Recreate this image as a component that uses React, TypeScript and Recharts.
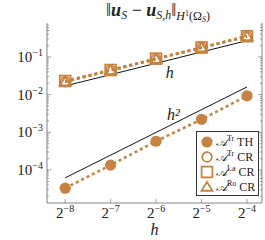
import React from "react";
import { ComposedChart, Line, XAxis, YAxis, Legend, ReferenceDot } from "recharts";

// mesh sizes and errors
const hValues = [2 ** -8, 2 ** -7, 2 ** -6, 2 ** -5, 2 ** -4];
const xTickExps = ["8", "7", "6", "5", "4"];
const trTH = [3.3e-5, 1.35e-4, 5.8e-4, 2.2e-3, 9.3e-3];
const trCR = [0.022, 0.044, 0.088, 0.175, 0.35];
const laCR = [0.023, 0.045, 0.09, 0.178, 0.355];
const roCR = [0.022, 0.044, 0.088, 0.176, 0.352];
const refH = [0.017, null, null, null, 0.27];
const refH2 = [6.2e-5, null, null, null, 0.016];
const yMajor = [1e-4, 1e-3, 1e-2, 1e-1];
const yTickExps = ["4", "3", "2", "1"];

const ORANGE = "#c8823f";
const FONT = "'Liberation Serif', 'DejaVu Serif', serif";

const data = hValues.map((h, i) => ({
  h,
  trTH: trTH[i],
  trCR: trCR[i],
  laCR: laCR[i],
  roCR: roCR[i],
  refH: refH[i],
  refH2: refH2[i],
}));

const yMinor: number[] = [];
for (let e = -5; e <= -1; e++) {
  for (let m = 2; m <= 9; m++) {
    const v = m * 10 ** e;
    if (v > 10 ** -4.875 && v < 10 ** -0.1) yMinor.push(v);
  }
}
const yTicks = [...yMajor, ...yMinor].sort((a, b) => a - b);

const isMajor = (v: number) => Math.abs(Math.log10(v) - Math.round(Math.log10(v))) < 1e-6;

const LeftTick = (p: any) => {
  const v = p.payload.value;
  const major = isMajor(v);
  const idx = yMajor.findIndex((m) => Math.abs(m - v) / m < 1e-6);
  return (
    <g>
      <line x1={p.x} x2={p.x + (major ? 4 : 2)} y1={p.y} y2={p.y} stroke="#777" strokeWidth={0.7} />
      {major && (
        <text x={p.x - 4} y={p.y + 5} textAnchor="end" fontFamily={FONT} fontSize={15} fill="#222">
          10<tspan fontSize={10} dy={-6}>−{yTickExps[idx]}</tspan>
        </text>
      )}
    </g>
  );
};

const RightTick = (p: any) => {
  const major = isMajor(p.payload.value);
  return <line x1={p.x} x2={p.x - (major ? 4 : 2)} y1={p.y} y2={p.y} stroke="#777" strokeWidth={0.7} />;
};

const BottomTick = (p: any) => {
  const idx = p.index;
  return (
    <g>
      <line x1={p.x} x2={p.x} y1={p.y} y2={p.y - 4} stroke="#777" strokeWidth={0.7} />
      <text x={p.x} y={p.y + 15} textAnchor="middle" fontFamily={FONT} fontSize={15} fill="#222">
        2<tspan fontSize={10} dy={-6}>−{xTickExps[idx]}</tspan>
      </text>
    </g>
  );
};

const TopTick = (p: any) => (
  <line x1={p.x} x2={p.x} y1={p.y} y2={p.y + 4} stroke="#777" strokeWidth={0.7} />
);

const FilledCircle = ({ cx, cy, r = 5.6 }: any) => <circle cx={cx} cy={cy} r={r} fill={ORANGE} />;
const OpenCircle = ({ cx, cy, r = 4.8 }: any) => (
  <circle cx={cx} cy={cy} r={r} fill="none" stroke={ORANGE} strokeWidth={1.8} />
);
const Square = ({ cx, cy, s = 5.4 }: any) => (
  <rect x={cx - s} y={cy - s} width={2 * s} height={2 * s} fill="none" stroke={ORANGE} strokeWidth={1.8} />
);
const Triangle = ({ cx, cy, s = 5 }: any) => (
  <polygon
    points={`${cx},${cy - s} ${cx + s * 1.1},${cy + s * 0.75} ${cx - s * 1.1},${cy + s * 0.75}`}
    fill="none"
    stroke={ORANGE}
    strokeWidth={1.8}
  />
);

const legendItems = [
  { icon: FilledCircle, sup: "Tr", name: "TH" },
  { icon: OpenCircle, sup: "Tr", name: "CR" },
  { icon: Square, sup: "La", name: "CR" },
  { icon: Triangle, sup: "Ro", name: "CR" },
];

const LegendBox = () => (
  <div
    style={{
      border: "1px solid #333",
      background: "#fff",
      width: 61,
      padding: "2px 0 1px 0",
      fontFamily: FONT,
      fontSize: 12,
      color: "#222",
    }}
  >
    {legendItems.map((it, i) => {
      const Icon = it.icon;
      return (
        <div key={i} style={{ display: "flex", alignItems: "center", height: 15 }}>
          <svg width={16} height={14} style={{ marginLeft: 2 }}>
            <Icon cx={8} cy={7} />
          </svg>
          <span style={{ marginLeft: 1, whiteSpace: "nowrap" }}>
            <i>𝒜</i>
            <sup style={{ fontSize: 8 }}>{it.sup}</sup> {it.name}
          </span>
        </div>
      );
    })}
  </div>
);

const Title = () => (
  <svg width={265} height={24} style={{ position: "absolute", left: 0, top: 0, pointerEvents: "none" }}>
    <text x={158} y={16} textAnchor="middle" fontFamily={FONT} fontSize={18} fill="#222">
      ‖<tspan fontWeight="bold" fontStyle="italic">u</tspan>
      <tspan fontSize={12} fontStyle="italic" dy={3}>S</tspan>
      <tspan dy={-3}> − </tspan>
      <tspan fontWeight="bold" fontStyle="italic">u</tspan>
      <tspan fontSize={12} fontStyle="italic" dy={3}>S,h</tspan>
      <tspan dy={-3}>‖</tspan>
      <tspan fontSize={12} dy={4}>
        <tspan fontStyle="italic">H</tspan>
        <tspan fontSize={8} dy={-4}>1</tspan>
        <tspan dy={4}>(Ω</tspan>
        <tspan fontSize={8} fontStyle="italic" dy={2}>S</tspan>
        <tspan dy={-2}>)</tspan>
      </tspan>
    </text>
  </svg>
);

export default function App() {
  const xDomain = [2 ** -8.4, 2 ** -3.67];
  const yDomain = [10 ** -4.875, 10 ** -0.1];
  return (
    <div style={{ position: "absolute", left: 0, top: 0, width: 265, height: 240, background: "#fff" }}>
      <ComposedChart width={265} height={240} data={data} margin={{ top: 23, right: 0, bottom: 0, left: 0 }}>
        <XAxis
          dataKey="h"
          type="number"
          scale="log"
          domain={xDomain}
          allowDataOverflow
          ticks={hValues}
          interval={0}
          height={37}
          tickSize={0}
          tickMargin={0}
          tickLine={false}
          tick={<BottomTick />}
          axisLine={{ stroke: "#666", strokeWidth: 0.8 }}
          label={{ value: "h", position: "insideBottom", offset: 5, style: { fontStyle: "italic", fontFamily: FONT, fontSize: 16, fill: "#222" } }}
        />
        <XAxis
          xAxisId="top"
          orientation="top"
          dataKey="h"
          type="number"
          scale="log"
          domain={xDomain}
          allowDataOverflow
          ticks={hValues}
          interval={0}
          height={0}
          tickSize={0}
          tickMargin={0}
          tickLine={false}
          tick={<TopTick />}
          axisLine={{ stroke: "#666", strokeWidth: 0.8 }}
        />
        <YAxis
          type="number"
          scale="log"
          domain={yDomain}
          allowDataOverflow
          ticks={yTicks}
          interval={0}
          width={47}
          tickSize={0}
          tickMargin={0}
          tickLine={false}
          tick={<LeftTick />}
          axisLine={{ stroke: "#666", strokeWidth: 0.8 }}
        />
        <YAxis
          yAxisId="right"
          orientation="right"
          type="number"
          scale="log"
          domain={yDomain}
          allowDataOverflow
          ticks={yTicks}
          interval={0}
          width={3}
          tickSize={0}
          tickMargin={0}
          tickLine={false}
          tick={<RightTick />}
          axisLine={{ stroke: "#666", strokeWidth: 0.8 }}
        />
        <Line dataKey="refH" stroke="#111" strokeWidth={1} dot={false} connectNulls isAnimationActive={false} />
        <Line dataKey="refH2" stroke="#111" strokeWidth={1} dot={false} connectNulls isAnimationActive={false} />
        <Line
          dataKey="trTH"
          stroke={ORANGE}
          strokeWidth={2.6}
          strokeDasharray="3 3"
          dot={(p: any) => <FilledCircle key={p.index} cx={p.cx} cy={p.cy} />}
          isAnimationActive={false}
        />
        <Line
          dataKey="trCR"
          stroke={ORANGE}
          strokeWidth={2.6}
          strokeDasharray="3 3"
          dot={(p: any) => <OpenCircle key={p.index} cx={p.cx} cy={p.cy} />}
          isAnimationActive={false}
        />
        <Line
          dataKey="laCR"
          stroke={ORANGE}
          strokeWidth={2.6}
          strokeDasharray="3 3"
          dot={(p: any) => <Square key={p.index} cx={p.cx} cy={p.cy} />}
          isAnimationActive={false}
        />
        <Line
          dataKey="roCR"
          stroke={ORANGE}
          strokeWidth={2.6}
          strokeDasharray="3 3"
          dot={(p: any) => <Triangle key={p.index} cx={p.cx} cy={p.cy} />}
          isAnimationActive={false}
        />
        <ReferenceDot
          x={2 ** -5.7}
          y={10 ** -1.4}
          r={0}
          label={{ value: "h", position: "center", style: { fontStyle: "italic", fontFamily: FONT, fontSize: 16, fill: "#222" } }}
        />
        <ReferenceDot
          x={2 ** -5.62}
          y={10 ** -2.52}
          r={0}
          label={{ value: "h²", position: "center", style: { fontStyle: "italic", fontFamily: FONT, fontSize: 16, fill: "#222" } }}
        />
        <Legend
          layout="vertical"
          align="center"
          verticalAlign="middle"
          content={<LegendBox />}
          wrapperStyle={{ position: "absolute", left: 196, top: 131, width: 63 }}
        />
      </ComposedChart>
      <Title />
    </div>
  );
}
